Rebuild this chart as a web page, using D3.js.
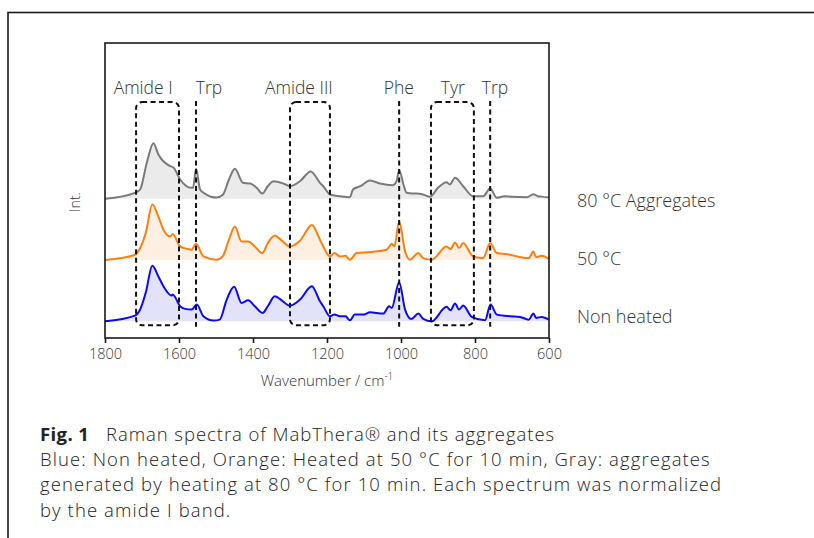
<!DOCTYPE html>
<html>
<head>
<meta charset="utf-8">
<script src="https://cdn.jsdelivr.net/npm/d3@7"></script>
<style>
  html, body { margin: 0; padding: 0; background: #fff; }
  svg { display: block; font-family: "Open Sans", Lato, sans-serif; font-weight: 300; }
</style>
</head>
<body>
<svg id="chart" width="814" height="538"></svg>
<script>
// ---------- DATA ----------
const xTicks = [1800, 1600, 1400, 1200, 1000, 800, 600];

const seriesNames = ["Non heated", "50 °C", "80 °C Aggregates"];
const seriesOffsets = [0, 1.1, 2.2];

const waveBlue = [1800,1719,1705,1690,1672,1656,1642,1620,1617,1597,1584,1566,1552,1534,1507,1490,1471,1451,1431,1413,1395,1374,1360,1341,1325,1300,1273,1241,1219,1210,1192,1180,1165,1150,1138,1125,1100,1084,1048,1032,1025,1005,989,972,953,940,917,877,866,854,843,832,809,773,758,741,705,678,655,642,635,620,600];
const intBlue  = [0,0.103,0.211,0.512,1.0,0.81,0.63,0.463,0.48,0.27,0.223,0.211,0.3,0.09,0.013,0.03,0.39,0.62,0.33,0.378,0.27,0.151,0.27,0.45,0.39,0.283,0.39,0.63,0.36,0.27,0.09,0.12,0.09,0.09,0.018,0.12,0.12,0.162,0.139,0.27,0.24,0.703,0.211,0.043,0.139,0.043,0,0.26,0.198,0.319,0.211,0.283,0.079,0.018,0.3,0.12,0.09,0.079,0.03,0.139,0.061,0.079,0.03];

const waveOrange = [1800,1719,1705,1690,1672,1656,1642,1624,1617,1597,1579,1566,1554,1534,1498,1481,1465,1449,1431,1413,1395,1375,1360,1341,1325,1300,1273,1241,1219,1210,1192,1180,1165,1150,1138,1120,1084,1039,1025,1018,1005,989,976,953,940,917,877,866,854,843,832,805,778,759,741,705,678,655,642,635,620,600];
const intOrange  = [0,0.095,0.216,0.486,1.0,0.786,0.546,0.425,0.468,0.245,0.204,0.186,0.294,0.065,0.005,0.077,0.366,0.605,0.335,0.335,0.245,0.126,0.306,0.443,0.366,0.245,0.348,0.63,0.366,0.245,0.065,0.126,0.065,0.077,0.005,0.126,0.144,0.186,0.294,0.245,0.695,0.155,0.005,0.126,0.036,0.005,0.245,0.198,0.317,0.216,0.306,0.065,0.036,0.306,0.126,0.095,0.054,0.036,0.155,0.054,0.077,0.018];

const waveGray = [1800,1719,1705,1687,1669,1656,1624,1615,1597,1566,1562,1554,1543,1530,1498,1481,1465,1449,1427,1408,1390,1375,1360,1345,1318,1300,1273,1244,1219,1210,1192,1165,1138,1130,1110,1084,1057,1022,1012,1005,992,985,970,958,940,922,900,877,868,854,832,805,778,759,741,720,700,660,642,630,620,600];
const intGray  = [0,0.108,0.168,0.65,1.0,0.80,0.587,0.564,0.348,0.198,0.2,0.54,0.168,0.095,0.023,0.077,0.348,0.54,0.288,0.276,0.198,0.095,0.227,0.317,0.276,0.227,0.317,0.492,0.288,0.227,0.077,0.047,0.029,0.168,0.227,0.33,0.276,0.245,0.317,0.515,0.227,0.108,0.095,0.095,0.077,0.036,0.198,0.3,0.258,0.378,0.227,0.047,0.047,0.186,0.018,0.047,0.036,0.029,0.083,0.047,0.04,0.023];

const bandBoxes   = [{label: "Amide I", from: 1716, to: 1600, labelAt: 1697},
                     {label: "Amide III", from: 1300, to: 1192, labelAt: 1276},
                     {label: "Tyr", from: 919, to: 803, labelAt: 860}];
const bandLines   = [{label: "Trp", at: 1554, labelAt: 1519},
                     {label: "Phe", at: 1005, labelAt: 1006},
                     {label: "Trp", at: 759, labelAt: 746}];

const captionTitle = "Fig. 1";
const captionHead = "Raman spectra of MabThera® and its aggregates";
const captionLines = ["Blue: Non heated, Orange: Heated at 50 °C for 10 min, Gray: aggregates",
                      "generated by heating at 80 °C for 10 min. Each spectrum was normalized",
                      "by the amide I band."];

// ---------- LAYOUT ----------
const svg = d3.select("#chart");
const plot = {left: 105, right: 549, top: 43, bottom: 338};

const x = d3.scaleLinear().domain([1800, 600]).range([plot.left, plot.right]);
const y = d3.scaleLinear().domain([-0.3, 5.0]).range([plot.bottom, plot.top]);

// outer frame
svg.append("rect")
  .attr("x", 8).attr("y", 12.5).attr("width", 830).attr("height", 560)
  .attr("fill", "none").attr("stroke", "#1a1a1a").attr("stroke-width", 1.6);

const series = [
  {wave: waveBlue, val: intBlue, stroke: "#0a0af5", fill: "#e2e2fb"},
  {wave: waveOrange, val: intOrange, stroke: "#ff7f0e", fill: "#fdefe2"},
  {wave: waveGray, val: intGray, stroke: "#7a7a7a", fill: "#ebebeb"}
];

const gSeries = svg.append("g");
series.forEach((s, i) => {
  const off = seriesOffsets[i];
  const pts = s.wave.map((w, k) => [w, s.val[k]]);
  const area = d3.area()
    .x(d => x(d[0])).y0(y(off)).y1(d => y(off + d[1]))
    .curve(d3.curveMonotoneX);
  const line = d3.line()
    .x(d => x(d[0])).y(d => y(off + d[1]))
    .curve(d3.curveMonotoneX);
  gSeries.append("path").attr("d", area(pts)).attr("fill", s.fill);
  gSeries.append("path").attr("d", line(pts)).attr("fill", "none")
    .attr("stroke", s.stroke).attr("stroke-width", 2).attr("stroke-linejoin", "round");
});

// band markers
const markTop = y(3.94), markBot = y(-0.07);
const gMarks = svg.append("g");
const labelStyle = sel => sel.attr("text-anchor", "middle").attr("font-size", 17.5).attr("fill", "#333");
bandBoxes.forEach(b => {
  gMarks.append("rect")
    .attr("x", x(b.from)).attr("y", markTop)
    .attr("width", x(b.to) - x(b.from)).attr("height", markBot - markTop)
    .attr("rx", 6).attr("ry", 6)
    .attr("fill", "none").attr("stroke", "#111").attr("stroke-width", 2)
    .attr("stroke-dasharray", "5,3.5");
  gMarks.append("text").attr("x", x(b.labelAt)).attr("y", 94).call(labelStyle).text(b.label);
});
bandLines.forEach(b => {
  gMarks.append("line")
    .attr("x1", x(b.at)).attr("x2", x(b.at))
    .attr("y1", y(3.96)).attr("y2", y(-0.1))
    .attr("stroke", "#111").attr("stroke-width", 2)
    .attr("stroke-dasharray", "5,3.5");
  gMarks.append("text").attr("x", x(b.labelAt)).attr("y", 94).call(labelStyle).text(b.label);
});

// plot box
svg.append("rect")
  .attr("x", plot.left).attr("y", plot.top)
  .attr("width", plot.right - plot.left).attr("height", plot.bottom - plot.top)
  .attr("fill", "none").attr("stroke", "#1a1a1a").attr("stroke-width", 1.6);

// x axis
const xAxis = d3.axisBottom(x).tickValues(xTicks).tickSize(5).tickPadding(6)
  .tickFormat(d3.format("d"));
const gx = svg.append("g").attr("transform", `translate(0,${plot.bottom})`).call(xAxis);
gx.select(".domain").remove();
gx.selectAll(".tick line").attr("stroke", "#1a1a1a").attr("stroke-width", 1.6);
gx.selectAll(".tick text").attr("font-size", 14.5).attr("fill", "#333")
  .attr("font-family", "'Open Sans', sans-serif").attr("font-weight", 300);

// x axis title
const xt = svg.append("text").attr("x", 327).attr("y", 386)
  .attr("text-anchor", "middle").attr("font-size", 15).attr("fill", "#333");
xt.append("tspan").text("Wavenumber / cm");
xt.append("tspan").attr("dy", -6).attr("font-size", 10).text("-1");

// y axis title
svg.append("text").attr("transform", "translate(80,202) rotate(-90)")
  .attr("text-anchor", "middle").attr("font-size", 14).attr("fill", "#333")
  .text("Int.");

// series labels
seriesNames.forEach((n, i) => {
  svg.append("text").attr("x", 577).attr("y", 322.5 - i * 58)
    .attr("font-size", 18).attr("fill", "#333").text(n);
});

// caption
const cap = svg.append("g").attr("fill", "#222");
cap.append("text").attr("x", 40).attr("y", 441).attr("font-size", 18.5)
  .attr("font-weight", "bold").attr("letter-spacing", 0.4).text(captionTitle);
cap.append("text").attr("x", 106).attr("y", 441).attr("font-size", 18.5)
  .attr("letter-spacing", 0.95).text(captionHead);
captionLines.forEach((l, i) => {
  cap.append("text").attr("x", 40).attr("y", 466.3 + i * 25.1).attr("font-size", 18.5)
    .attr("letter-spacing", 1.1).text(l);
});
</script>
</body>
</html>
